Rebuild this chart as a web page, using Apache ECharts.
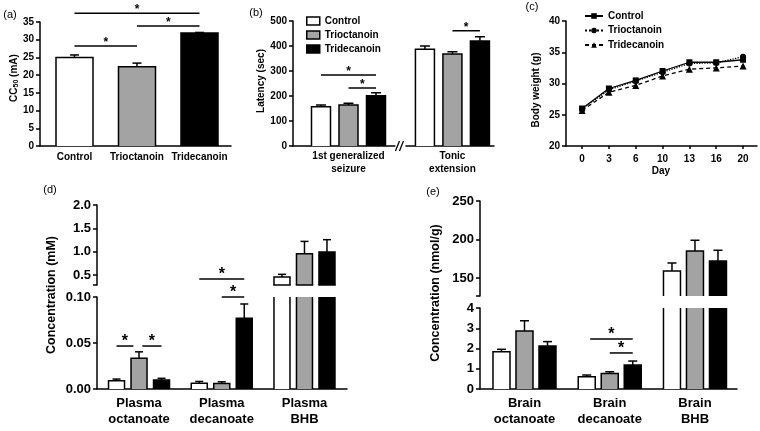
<!DOCTYPE html>
<html><head><meta charset="utf-8">
<script src="https://cdn.jsdelivr.net/npm/echarts@6/dist/echarts.min.js"></script>
<style>html,body{margin:0;padding:0;background:#fff}#c{width:760px;height:431px}</style>
</head><body><div id="c"></div><script>
// ---------- DATA ----------
const treatments = ['Control', 'Trioctanoin', 'Tridecanoin'];

// (a) CC50
const groupsA = ['Control', 'Trioctanoin', 'Tridecanoin'];
const cc50 = [25.0, 22.4, 31.9];
const cc50Err = [0.7, 1.0, 0.15];

// (b) latency
const groupsB = ['1st generalized\nseizure', 'Tonic\nextension'];
const latControl = [157, 387];
const latControlErr = [7, 13];
const latTrioct = [164, 368];
const latTrioctErr = [7, 9];
const latTridec = [201, 420];
const latTridecErr = [12, 17];

// (c) body weight
const days = ['0', '3', '6', '10', '13', '16', '20'];
const bwControl = [26.0, 29.2, 30.5, 32.0, 33.4, 33.4, 33.8];
const bwTrioct = [25.9, 29.0, 30.4, 31.8, 33.2, 33.3, 34.3];
const bwTridec = [25.7, 28.6, 29.7, 31.2, 32.3, 32.5, 32.8];

// (d) plasma
const groupsD = ['Plasma\noctanoate', 'Plasma\ndecanoate', 'Plasma\nBHB'];
const plControl = [0.009, 0.0062, 0.457];
const plControlErr = [0.0018, 0.002, 0.057];
const plTrioct = [0.0334, 0.006, 0.957];
const plTrioctErr = [0.007, 0.0018, 0.263];
const plTridec = [0.0098, 0.0768, 0.993];
const plTridecErr = [0.0018, 0.0156, 0.264];

// (e) brain
const groupsE = ['Brain\noctanoate', 'Brain\ndecanoate', 'Brain\nBHB'];
const brControl = [1.84, 0.61, 159];
const brControlErr = [0.12, 0.08, 10.5];
const brTrioct = [2.86, 0.77, 185];
const brTrioctErr = [0.51, 0.08, 14];
const brTridec = [2.12, 1.18, 172];
const brTridecErr = [0.22, 0.2, 14];

// significance annotations: [axis, group1, slot1, group2, slot2, yValue]
const sigLines = [
  [0, 0, 0, 2, 0, 37.5],
  [0, 1, 0, 2, 0, 33.9],
  [0, 0, 0, 1, 0, 28.2],
  [1, 0, -1, 0, 1, 284],
  [1, 0, 0, 0, 1, 232],
  [1, 1, 0, 1, 1, 461],
  [4, 0, -1, 0, -0.25, 0.0467],
  [4, 0, 0.15, 0, 1, 0.0467],
  [4, 1, -1, 1, 1, 0.1196],
  [4, 1, 0, 1, 1, 0.100],
  [6, 1, -0.85, 1, 1, 2.47],
  [6, 1, 0, 1, 1, 1.78]
];

// ---------- STYLE ----------
const FONT = 'Liberation Sans, Arial, sans-serif';
const FILLS = ['#ffffff', '#a3a3a3', '#000000'];
const LW = 1.5;
const slotPx = {0: 0, 1: 27.5, 4: 22.5, 6: 23};

const chart = echarts.init(document.getElementById('c'), null, {renderer: 'canvas'});

function barSeries(name, ax, values, errs, fill, offPx, wPx, capPx, closeClipBottom, onlyIndex) {
  let data = values.map((v, i) => [i, v, errs[i]]);
  if (onlyIndex !== undefined) data = data.filter(d => d[0] === onlyIndex);
  return {
    type: 'custom', name: name, xAxisIndex: ax, yAxisIndex: ax, clip: false,
    itemStyle: {color: fill}, silent: true,
    data: data,
    renderItem: function (params, api) {
      const cs = params.coordSys;
      const g = api.value(0), v = api.value(1), e = api.value(2);
      const pv = api.coord([g, v]);
      const p0 = api.coord([g, 0]);
      const cx = pv[0] + offPx;
      const gTop = cs.y, gBot = cs.y + cs.height;
      const clipTop = pv[1] < gTop, clipBot = p0[1] > gBot;
      const top = Math.max(pv[1], gTop), bot = Math.min(p0[1], gBot);
      if (top >= bot) return null;
      const x0 = cx - wPx / 2, x1 = cx + wPx / 2;
      const st = {stroke: '#000', lineWidth: LW, fill: null};
      const ch = [{type: 'rect', shape: {x: x0, y: top, width: wPx, height: bot - top}, style: {fill: fill}}];
      if (!clipTop) {
        ch.push({type: 'polyline', shape: {points: [[x0, bot], [x0, top], [x1, top], [x1, bot]]}, style: st});
      } else {
        ch.push({type: 'line', shape: {x1: x0, y1: bot, x2: x0, y2: top}, style: st});
        ch.push({type: 'line', shape: {x1: x1, y1: bot, x2: x1, y2: top}, style: st});
      }
      if (clipBot && closeClipBottom) {
        ch.push({type: 'line', shape: {x1: x0 - LW / 2, y1: bot, x2: x1 + LW / 2, y2: bot}, style: st});
      }
      if (!clipTop && e > 0) {
        const ye = api.coord([g, v + e])[1];
        ch.push({type: 'line', shape: {x1: cx, y1: top, x2: cx, y2: ye}, style: st});
        ch.push({type: 'line', shape: {x1: cx - capPx / 2, y1: ye, x2: cx + capPx / 2, y2: ye}, style: st});
      }
      return {type: 'group', children: ch};
    }
  };
}

function xCat(grid, min, max, labels, fs, lh, margin, show, withTicks) {
  return {
    type: 'value', gridIndex: grid, min: min, max: max, show: show,
    axisLine: {show: true, onZero: false, lineStyle: {color: '#000', width: LW}},
    axisTick: withTicks ? {show: true, length: 3, customValues: labels.map((_, i) => i), lineStyle: {color: '#000', width: LW}} : {show: false},
    splitLine: {show: false},
    axisLabel: {
      customValues: labels.map((_, i) => i),
      formatter: v => labels[Math.round(v)],
      color: '#000', fontWeight: 'bold', fontSize: fs, lineHeight: lh, margin: margin, fontFamily: FONT
    }
  };
}

function yVal(grid, min, max, interval, fmt, fs, labelVals, tickVals) {
  const ax = {
    type: 'value', gridIndex: grid, min: min, max: max,
    axisLine: {show: true, onZero: false, lineStyle: {color: '#000', width: LW}},
    axisTick: {show: true, length: 4, lineStyle: {color: '#000', width: LW}},
    splitLine: {show: false},
    axisLabel: {formatter: fmt, color: '#000', fontWeight: 'bold', fontSize: fs, margin: 6, fontFamily: FONT}
  };
  if (interval) ax.interval = interval;
  if (labelVals) ax.axisLabel.customValues = labelVals;
  if (tickVals) ax.axisTick.customValues = tickVals;
  return ax;
}

const grids = [
  {left: 40, top: 22, width: 191, height: 124},   // a
  {left: 293, top: 21, width: 201, height: 125},  // b
  {left: 566, top: 21, width: 191, height: 125},  // c
  {left: 97, top: 205, width: 250, height: 80},   // d upper
  {left: 97, top: 297, width: 250, height: 92},   // d lower
  {left: 480, top: 201, width: 257, height: 95},  // e upper
  {left: 480, top: 308, width: 257, height: 81}   // e lower
].map(g => Object.assign({containLabel: false, outerBoundsMode: 'none'}, g));

const dUpMin = 2.0 - 80 * 1.5 / 70;
const eUpMin = 250 - 95 * 100 / 77;

const xAxes = [
  xCat(0, -0.552, 2.504, groupsA, 10, 12, 5, true, false),
  xCat(1, -0.534, 1.40, groupsB, 10, 12.5, 4, true, false),
  xCat(2, -0.6, 6.52, days, 10, 12, 7, true, true),
  xCat(3, -0.508, 2.514, groupsD, 13, 16, 6, false, false),
  xCat(4, -0.508, 2.514, groupsD, 13, 16, 6, true, false),
  xCat(5, -0.522, 2.493, groupsE, 13, 16, 6, false, false),
  xCat(6, -0.522, 2.493, groupsE, 13, 16, 6, true, false)
];
const yAxes = [
  yVal(0, 0, 35, 5, v => v, 10),
  yVal(1, 0, 500, 100, v => v, 10),
  yVal(2, 20, 40, 5, v => v, 10),
  yVal(3, dUpMin, 2.0, null, v => v.toFixed(1), 13, [0.5, 1.0, 1.5, 2.0], [dUpMin, 0.5, 1.0, 1.5, 2.0]),
  yVal(4, 0, 0.1, 0.05, v => v.toFixed(2), 13),
  yVal(5, eUpMin, 250, null, v => String(Math.round(v)), 13, [150, 200, 250], [eUpMin, 150, 200, 250]),
  yVal(6, 0, 4, 1, v => v, 13)
];

const series = [];
// (a)
treatments.forEach((t, k) => series.push(barSeries('a:' + t, 0, cc50, cc50Err, FILLS[k], 0, 37, 9, false, k)));
// (b)
const bVals = [[latControl, latControlErr], [latTrioct, latTrioctErr], [latTridec, latTridecErr]];
bVals.forEach((p, k) => series.push(barSeries('b:' + treatments[k], 1, p[0], p[1], FILLS[k], (k - 1) * 27.5, 19, 10, false)));
// (c)
const cVals = [bwControl, bwTrioct, bwTridec];
const cSym = ['rect', 'circle', 'triangle'];
const cLine = ['solid', 'dotted', [4, 3]];
cVals.forEach((arr, k) => series.push({
  type: 'line', name: 'c:' + treatments[k], xAxisIndex: 2, yAxisIndex: 2,
  data: arr.map((v, i) => [i, v]),
  symbol: cSym[k], symbolSize: k === 2 ? 7 : 6,
  itemStyle: {color: '#000'},
  lineStyle: {color: '#000', width: 1.3, type: cLine[k]},
  z: 5 - k
}));
// (d)
const dVals = [[plControl, plControlErr], [plTrioct, plTrioctErr], [plTridec, plTridecErr]];
dVals.forEach((p, k) => {
  series.push(barSeries('du:' + treatments[k], 3, p[0], p[1], FILLS[k], (k - 1) * 22.5, 16, 8, true));
  series.push(barSeries('dl:' + treatments[k], 4, p[0], p[1], FILLS[k], (k - 1) * 22.5, 16, 8, false));
});
// (e)
const eVals = [[brControl, brControlErr], [brTrioct, brTrioctErr], [brTridec, brTridecErr]];
eVals.forEach((p, k) => {
  series.push(barSeries('eu:' + treatments[k], 5, p[0], p[1], FILLS[k], (k - 1) * 23, 17, 9, false));
  series.push(barSeries('el:' + treatments[k], 6, p[0], p[1], FILLS[k], (k - 1) * 23, 17, 9, false));
});

const option = {
  animation: false,
  backgroundColor: '#fff',
  grid: grids,
  xAxis: xAxes,
  yAxis: yAxes,
  legend: [
    {
      data: treatments.map((t, k) => ({name: 'b:' + t, icon: 'rect', itemStyle: {color: FILLS[k], borderColor: '#000', borderWidth: 1.5}})),
      formatter: n => n.replace(/^b:/, ''),
      orient: 'vertical', left: 306, top: 15, padding: 0, itemGap: 2, itemWidth: 13, itemHeight: 8,
      selectedMode: false,
      textStyle: {color: '#000', fontWeight: 'bold', fontSize: 10, fontFamily: FONT, lineHeight: 12}
    },
    {
      data: treatments.map(t => 'c:' + t),
      formatter: n => n.replace(/^c:/, ''),
      orient: 'vertical', left: 584, top: 10, padding: 0, itemGap: 2.5, itemWidth: 18, itemHeight: 7,
      selectedMode: false,
      textStyle: {color: '#000', fontWeight: 'bold', fontSize: 10, fontFamily: FONT, lineHeight: 12}
    }
  ],
  series: series
};
chart.setOption(option);

// ---------- annotations ----------
function px(ax, x, y) { return chart.convertToPixel({xAxisIndex: ax, yAxisIndex: ax}, [x, y]); }
const gfx = [];
function txt(x, y, text, size, weight, rot, extra) {
  const el = {
    type: 'text', x: x, y: y, rotation: rot || 0, z: 100,
    style: Object.assign({text: text, fill: '#000', font: (weight || 'bold') + ' ' + size + 'px ' + FONT, align: 'center', verticalAlign: 'middle'}, extra || {})
  };
  gfx.push(el);
}
sigLines.forEach(s => {
  const [ax, g1, s1, g2, s2, yv] = s;
  const sp = slotPx[ax];
  const a = px(ax, g1, yv), b = px(ax, g2, yv);
  const xa = a[0] + s1 * sp, xb = b[0] + s2 * sp, y = a[1];
  gfx.push({type: 'line', z: 100, shape: {x1: xa, y1: y, x2: xb, y2: y}, style: {stroke: '#000', lineWidth: LW}});
  const big = ax >= 3;
  txt((xa + xb) / 2, y + (big ? 4 : 3), '*', big ? 16 : 12, 'bold', 0, {verticalAlign: 'bottom'});
});
// axis break mark on (b)
const bk = px(1, 0.5, 0);
gfx.push({type: 'rect', z: 99, shape: {x: bk[0] - 5, y: bk[1] - 2, width: 10, height: 4}, style: {fill: '#fff'}});
gfx.push({type: 'line', z: 100, shape: {x1: bk[0] - 5, y1: bk[1] + 5, x2: bk[0] - 1, y2: bk[1] - 5}, style: {stroke: '#000', lineWidth: 1.3}});
gfx.push({type: 'line', z: 100, shape: {x1: bk[0] - 1, y1: bk[1] + 5, x2: bk[0] + 3, y2: bk[1] - 5}, style: {stroke: '#000', lineWidth: 1.3}});

// axis titles
const R = Math.PI / 2;
gfx.push({
  type: 'text', x: 14, y: 78, rotation: R, z: 100,
  style: {
    text: 'CC{s|50} (mA)', fill: '#000', font: 'bold 10px ' + FONT, align: 'center', verticalAlign: 'middle',
    rich: {s: {fontSize: 7, fontWeight: 'bold', fontFamily: FONT, padding: [4, 0, 0, 0]}}
  }
});
txt(261, 81, 'Latency (sec)', 10, 'bold', R);
txt(536, 90, 'Body weight (g)', 10, 'bold', R);
txt(661, 171, 'Day', 10, 'bold', 0);
txt(52, 295, 'Concentration (mM)', 12.5, 'bold', R);
txt(436, 293, 'Concentration (nmol/g)', 12.5, 'bold', R);
// panel labels
txt(10, 15, '(a)', 11, 'normal');
txt(256, 13, '(b)', 11, 'normal');
txt(532, 7, '(c)', 11, 'normal');
txt(50, 190, '(d)', 11, 'normal');
txt(433, 192, '(e)', 11, 'normal');

chart.setOption({graphic: gfx});
</script></body></html>
